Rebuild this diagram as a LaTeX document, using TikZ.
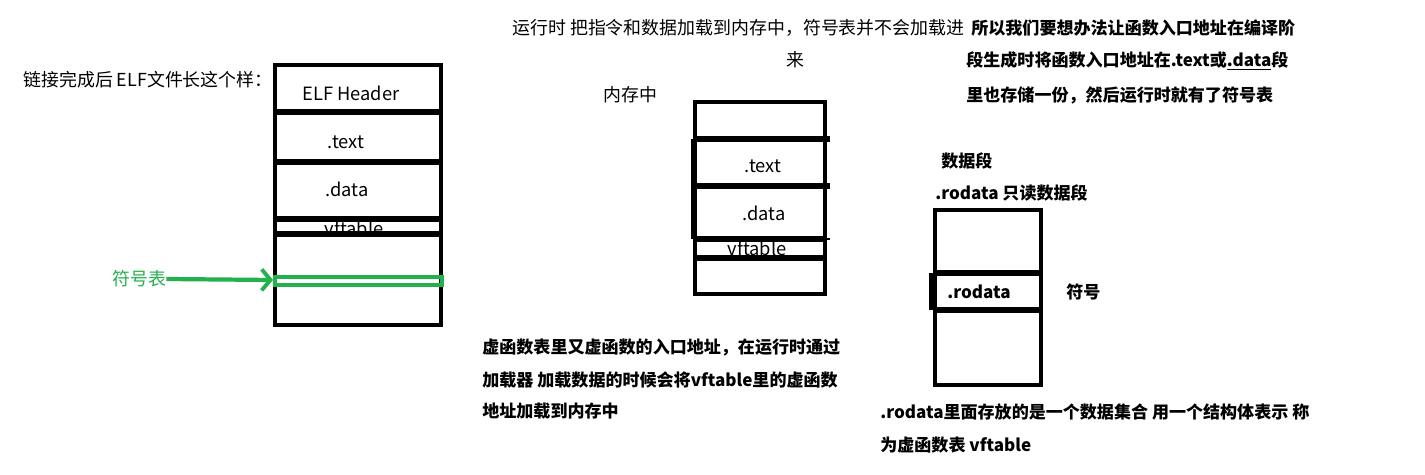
\documentclass[tikz,border=0pt]{standalone}
\usepackage{fontspec}
\setmainfont{Noto Sans CJK SC}
\usetikzlibrary{arrows.meta}
\definecolor{paintgreen}{HTML}{22B14C}
\tikzset{
  note/.style={anchor=west,inner sep=0pt,font=\fontsize{10.2}{12}\selectfont},
  boldnote/.style={anchor=west,inner sep=0pt,font=\fontsize{9.7}{11}\selectfont\bfseries},
  seglabel/.style={inner sep=0pt,font=\fontsize{10.4}{12}\selectfont},
  segbox/.style={line width=2.8pt},
  segline/.style={line width=3.4pt},
  thinline/.style={line width=0.6pt},
  greenbox/.style={draw=paintgreen,line width=2pt},
  greenarr/.style={-{Straight Barb[length=5pt,width=12pt,line width=2.2pt]},
                   draw=paintgreen,line width=2.4pt}
}
\begin{document}
\begin{tikzpicture}[x=0.02cm,y=-0.02cm]
    \path[use as bounding box,fill=white] (0,0) rectangle (1425,475);
    % ELF file after linking
    \node[note] (elftitle) at (23,80) {链接完成后 ELF文件长这个样：};
    \node[seglabel] (elfhdr) at (351,93) {ELF Header};
    \node[seglabel] (elftext) at (346,142) {.text};
    \node[seglabel] (elfdata) at (347,189) {.data};
    \node[seglabel] (elfvft) at (354,228) {vftable};
    \draw[segbox] (275,65) rectangle (441,325);
    \draw[segline] (275,112) -- (441,112);
    \draw[segline] (275,162) -- (441,162);
    \draw[segline] (275,219) -- (441,219);
    \draw[segline] (275,234) -- (441,234);
    \draw[greenbox] (275,277) rectangle (442,285);
    \node[note,text=paintgreen] (symtab) at (112,279) {符号表};
    \coordinate (symhit) at (273,280);
    \draw[greenarr] (symtab.east) -- (symhit);
    % memory at run time
    \node[note] (runnote) at (512,28) {运行时 把指令和数据加载到内存中，符号表并不会加载进};
    \node[note] (runnote2) at (786,60) {来};
    \node[note] (memtitle) at (603,95) {内存中};
    \node[seglabel] (memtext) at (763,166) {.text};
    \node[seglabel] (memdata) at (764,213) {.data};
    \node[seglabel] (memvft) at (757,248) {vftable};
    \draw[segbox] (695,102) rectangle (825,294);
    \draw[segline] (695,139) -- (830,139);
    \draw[segline] (695,186) -- (830,186);
    \draw[segline] (695,239) -- (825,239);
    \draw[thinline] (825,239) -- (830,239);
    \draw[segline] (695,258) -- (825,258);
    \draw[segbox] (693,139) -- (693,239);
    \node[boldnote] (loadnote1) at (482,348) {虚函数表里又虚函数的入口地址，在运行时通过};
    \node[boldnote] (loadnote2) at (482,380) {加载器 加载数据的时候会将vftable里的虚函数};
    \node[boldnote] (loadnote3) at (482,411) {地址加载到内存中};
    % read-only data segment
    \node[boldnote] (compnote1) at (971,28) {所以我们要想办法让函数入口地址在编译阶};
    \node[boldnote] (compnote2) at (966,61) {段生成时将函数入口地址在.text或\underline{.data}段};
    \node[boldnote] (compnote3) at (966,95) {里也存储一份，然后运行时就有了符号表};
    \node[boldnote] (datatitle) at (941,161) {数据段};
    \node[boldnote] (rotitle) at (935,193) {.rodata 只读数据段};
    \node[boldnote] (rolabel) at (947,292) {.rodata};
    \node[boldnote] (symlabel) at (1066,292) {符号};
    \draw[segbox] (935,210) rectangle (1041,385);
    \draw[segline] (935,273) -- (1041,273);
    \draw[segline] (935,310) -- (1041,310);
    \draw[segline] (932,273) -- (932,310);
    \node[boldnote] (ronote1) at (880,412) {.rodata里面存放的是一个数据集合 用一个结构体表示 称};
    \node[boldnote] (ronote2) at (880,445) {为虚函数表 vftable};
\end{tikzpicture}
\end{document}
